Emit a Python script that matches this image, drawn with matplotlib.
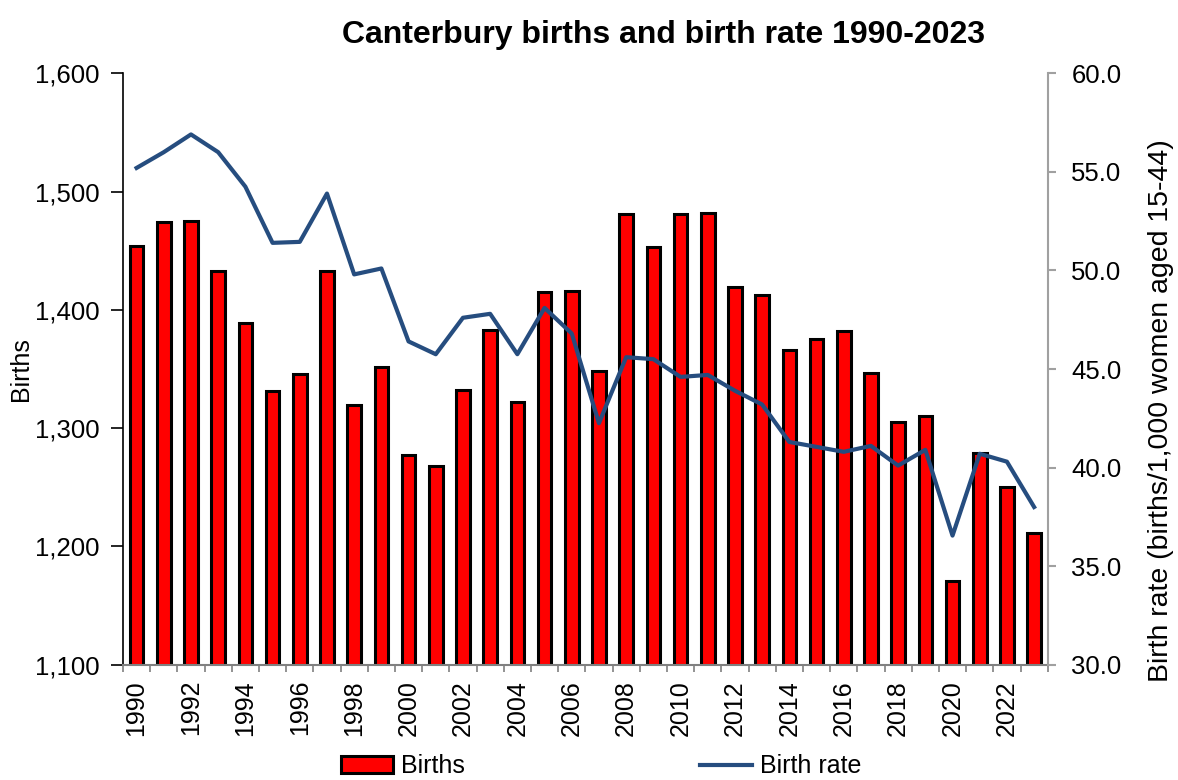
import numpy as np
import matplotlib.pyplot as plt
from matplotlib.ticker import FuncFormatter, FixedLocator

plt.rcParams['font.family'] = ['Liberation Sans', 'DejaVu Sans']

# 数据
years = list(range(1990, 2024))
births = [1454, 1474, 1475, 1433, 1389, 1331, 1346, 1433, 1320, 1352,
          1277, 1268, 1332, 1383, 1322, 1415, 1416, 1348, 1481, 1453,
          1481, 1482, 1419, 1413, 1366, 1375, 1382, 1347, 1305, 1310,
          1171, 1279, 1250, 1211]
birth_rate = [55.2, 56.0, 56.9, 56.0, 54.25, 51.4, 51.45, 53.9, 49.8, 50.1,
              46.4, 45.75, 47.6, 47.8, 45.75, 48.1, 46.8, 42.25, 45.6, 45.5,
              44.6, 44.7, 43.9, 43.2, 41.3, 41.05, 40.8, 41.1, 40.1, 40.9,
              36.55, 40.7, 40.3, 38.0]

x = np.arange(len(years))

fig = plt.figure(figsize=(11.78, 7.8), dpi=100)
ax = fig.add_axes([0.1044, 0.1478, 0.785, 0.7582])
ax2 = ax.twinx()

# 柱状图
bars = ax.bar(x, births, width=0.5, color='#FF0000', edgecolor='black',
              linewidth=2.2, label='Births', zorder=2)
ax.set_ylim(1100, 1600)
ax.set_yticks([1100, 1200, 1300, 1400, 1500, 1600])
ax.yaxis.set_major_formatter(FuncFormatter(lambda v, p: '{:,.0f}'.format(v)))
ax.set_xlim(-0.5, len(years) - 0.5)

# x轴: 刻度线在柱子之间, 标签在柱子中心
ax.xaxis.set_major_locator(FixedLocator(np.arange(-0.5, len(years), 1)))
ax.xaxis.set_minor_locator(FixedLocator(x[::2]))
ax.set_xticklabels([], minor=False)
ax.set_xticklabels([str(y) for y in years[::2]], minor=True, rotation=90)
ax.tick_params(axis='x', which='major', length=5, width=1.2, color='#808080', direction='out')
ax.tick_params(axis='x', which='minor', length=0, labelsize=18, pad=11)
ax.tick_params(axis='y', length=9, width=1.2, direction='out', labelsize=18.5, pad=8)

# 折线图
line, = ax2.plot(x, birth_rate, color='#264D7F', linewidth=3, label='Birth rate', zorder=3)
ax2.set_ylim(30, 60)
ax2.set_yticks([30, 35, 40, 45, 50, 55, 60])
ax2.yaxis.set_major_formatter(FuncFormatter(lambda v, p: '{:.1f}'.format(v)))
ax2.tick_params(axis='y', length=6, width=1.5, color='#A0A0A0', direction='out',
                labelsize=18.5, pad=11)

for a in (ax, ax2):
    a.spines['top'].set_visible(False)
ax.spines['left'].set_color('black')
ax.spines['left'].set_linewidth(1.2)
ax.spines['bottom'].set_color('#808080')
ax.spines['bottom'].set_linewidth(1.5)
ax.spines['right'].set_visible(False)
ax2.spines['left'].set_visible(False)
ax2.spines['bottom'].set_visible(False)
ax2.spines['right'].set_color('#A0A0A0')
ax2.spines['right'].set_linewidth(1.5)

ax.set_ylabel('Births', fontsize=18, labelpad=1)
ax2.set_ylabel('Birth rate (births/1,000 women aged 15-44)', fontsize=20.5, labelpad=19)
ax2.yaxis.label.set_y(0.43)
ax.set_title('Canterbury births and birth rate 1990-2023', fontsize=23,
             fontweight='bold', pad=22, x=0.585)

ax.legend([bars, line], ['Births', 'Birth rate'], loc='center',
          bbox_to_anchor=(0.517, -0.172), ncol=2, frameon=False, fontsize=18,
          columnspacing=9.4, handlelength=2.1, handletextpad=0.3)

fig.savefig('out.png', dpi=100)
